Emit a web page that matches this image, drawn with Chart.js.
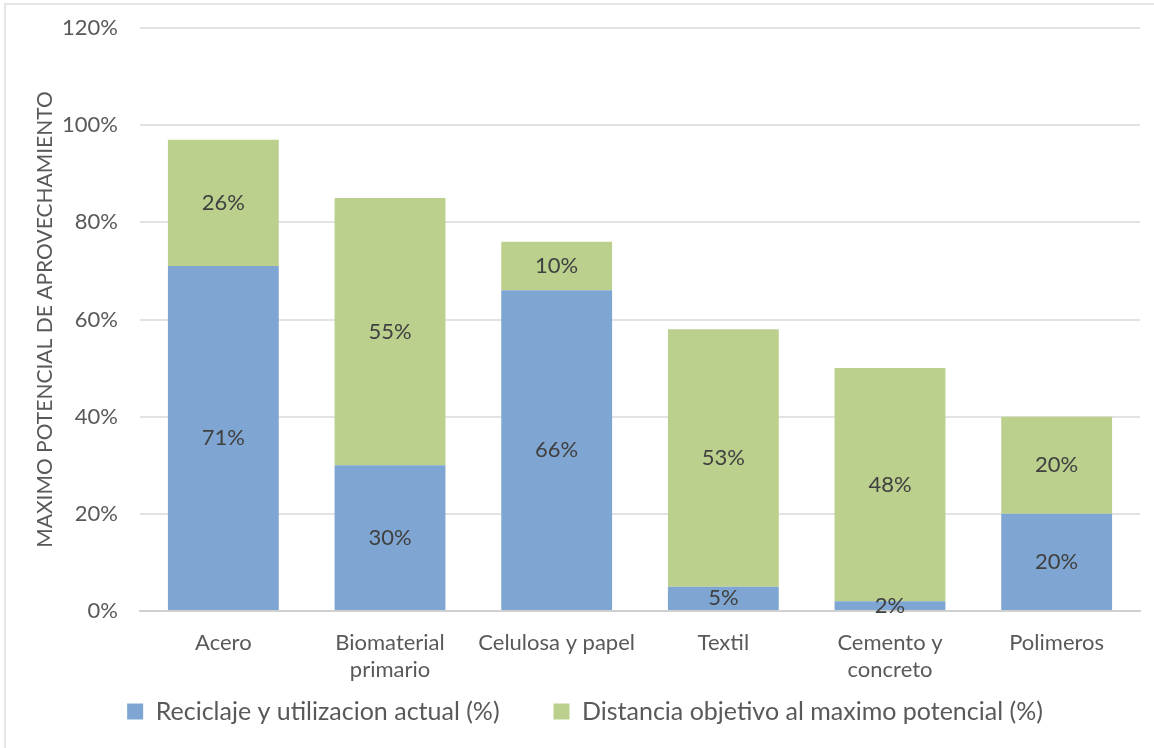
<!DOCTYPE html>
<html lang="es">
<head>
    <meta charset="UTF-8">
    <title>Maximo potencial de aprovechamiento</title>
    <script src="https://cdn.jsdelivr.net/npm/chart.js"></script>
    <style>
        html, body {
            margin: 0;
            padding: 0;
            background-color: #fff;
        }
        .frame {
            position: absolute;
            left: 4px;
            top: 3px;
            width: 1160px;
            height: 760px;
            border-left: 2px solid #e6e6e6;
            border-top: 2px solid #e6e6e6;
        }
        .chart-box {
            position: absolute;
            left: 0;
            top: 0;
            width: 1154px;
            height: 748px;
        }
    </style>
</head>
<body>
    <div class="frame"></div>
    <div class="chart-box">
        <canvas id="materialesChart"></canvas>
    </div>

    <script>
        // categorias y valores (%)
        const categorias = ['Acero', ['Biomaterial', 'primario'], 'Celulosa y papel', 'Textil', ['Cemento y', 'concreto'], 'Polimeros'];
        const reciclajeActual = [71, 30, 66, 5, 2, 20];
        const distanciaObjetivo = [26, 55, 10, 53, 48, 20];
        const ticksY = [0, 20, 40, 60, 80, 100, 120];

        const colorTexto = '#595959';
        const fuente = 'Lato, "Liberation Sans", sans-serif';

        // etiquetas de datos dentro de cada barra
        const etiquetasPlugin = {
            id: 'etiquetas',
            afterDatasetsDraw(chart) {
                const ctx = chart.ctx;
                ctx.save();
                ctx.font = '22px ' + fuente;
                ctx.fillStyle = '#404040';
                ctx.textAlign = 'center';
                ctx.textBaseline = 'middle';
                chart.data.datasets.forEach((ds, i) => {
                    const meta = chart.getDatasetMeta(i);
                    meta.data.forEach((bar, j) => {
                        const y = (bar.y + bar.base) / 2;
                        ctx.fillText(ds.data[j] + '%', bar.x, y);
                    });
                });
                ctx.restore();
            }
        };

        const ctx = document.getElementById('materialesChart').getContext('2d');
        new Chart(ctx, {
            type: 'bar',
            data: {
                labels: categorias,
                datasets: [{
                    label: 'Reciclaje y utilizacion actual (%)',
                    data: reciclajeActual,
                    backgroundColor: '#7fa6d2',
                    categoryPercentage: 1,
                    barPercentage: 0.665
                }, {
                    label: 'Distancia objetivo al maximo potencial (%)',
                    data: distanciaObjetivo,
                    backgroundColor: '#bbd08d',
                    categoryPercentage: 1,
                    barPercentage: 0.665
                }]
            },
            options: {
                responsive: true,
                maintainAspectRatio: false,
                animation: false,
                layout: {
                    padding: { left: 30, right: 14, top: 28, bottom: 14 }
                },
                plugins: {
                    legend: {
                        position: 'bottom',
                        labels: {
                            color: colorTexto,
                            font: { family: fuente, size: 25 },
                            boxWidth: 16,
                            boxHeight: 16,
                            padding: 10,
                            // mas espacio entre las dos entradas
                            generateLabels(chart) {
                                const items = Chart.defaults.plugins.legend.labels.generateLabels(chart);
                                items[0].text = items[0].text + '\u2003\u2003 ';
                                return items;
                            }
                        }
                    },
                    tooltip: { enabled: false }
                },
                scales: {
                    x: {
                        stacked: true,
                        grid: { display: false, drawTicks: false },
                        border: { color: '#d0d0d0', width: 2 },
                        ticks: {
                            color: colorTexto,
                            font: { family: fuente, size: 22, lineHeight: 1.25 },
                            padding: 18,
                            maxRotation: 0,
                            autoSkip: false
                        },
                        afterFit(scale) {
                            scale.height = 78;
                        }
                    },
                    y: {
                        stacked: true,
                        min: 0,
                        max: 120,
                        afterBuildTicks(scale) {
                            scale.ticks = ticksY.map(v => ({ value: v }));
                        },
                        grid: { color: '#e3e3e3', lineWidth: 2, drawTicks: false },
                        border: { display: false },
                        ticks: {
                            color: colorTexto,
                            font: { family: fuente, size: 22 },
                            padding: 22,
                            callback: v => v + '%'
                        },
                        title: {
                            display: true,
                            text: 'MAXIMO POTENCIAL DE APROVECHAMIENTO',
                            color: colorTexto,
                            font: { family: fuente, size: 21 },
                            padding: { top: 3, bottom: 0 }
                        },
                        afterFit(scale) {
                            scale.width = 110;
                            scale.paddingTop = 0;
                            scale.paddingBottom = 0;
                        }
                    }
                }
            },
            plugins: [etiquetasPlugin]
        });
    </script>
</body>
</html>
